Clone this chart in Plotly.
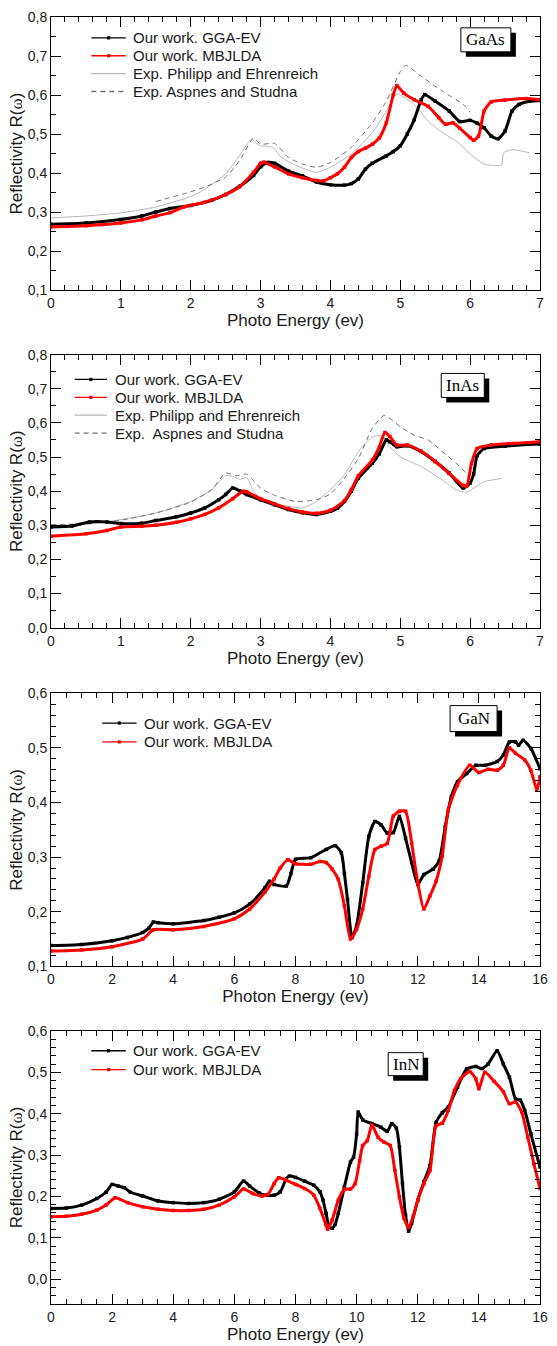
import plotly.graph_objects as go

# ---------------------------------------------------------------- data
# GaAs
gaas_gga_e = [0, 0.5, 1.0, 1.3, 1.5, 1.7, 2.0, 2.3, 2.5, 2.7, 2.9, 3.0, 3.1, 3.2, 3.4, 3.6, 3.8, 4.0,
              4.2, 4.3, 4.4, 4.5, 4.6, 4.8, 4.9, 5.0, 5.1, 5.2, 5.3, 5.35, 5.5, 5.7, 5.85, 6.0, 6.1,
              6.2, 6.3, 6.4, 6.5, 6.6, 6.7, 6.85, 7.0]
gaas_gga_r = [0.269, 0.272, 0.281, 0.29, 0.30, 0.309, 0.317, 0.33, 0.345, 0.366, 0.394, 0.416, 0.427,
              0.425, 0.405, 0.393, 0.377, 0.37, 0.369, 0.373, 0.385, 0.41, 0.425, 0.444, 0.455, 0.47,
              0.50, 0.537, 0.588, 0.601, 0.584, 0.559, 0.532, 0.535, 0.528, 0.516, 0.495, 0.488,
              0.508, 0.559, 0.576, 0.584, 0.586]
gaas_mbj_e = [0, 0.5, 1.0, 1.3, 1.5, 1.7, 1.9, 2.2, 2.5, 2.7, 2.9, 3.0, 3.05, 3.2, 3.4, 3.6, 3.8, 3.9,
              4.0, 4.1, 4.2, 4.3, 4.4, 4.5, 4.6, 4.7, 4.8, 4.9, 4.95, 5.05, 5.2, 5.4, 5.55, 5.65, 5.75,
              5.85, 6.0, 6.05, 6.12, 6.2, 6.3, 6.5, 6.8, 7.0]
gaas_mbj_r = [0.262, 0.265, 0.272, 0.28, 0.29, 0.298, 0.313, 0.325, 0.345, 0.365, 0.402, 0.425, 0.428,
              0.416, 0.398, 0.388, 0.381, 0.38, 0.388, 0.398, 0.415, 0.44, 0.455, 0.464, 0.474, 0.49,
              0.529, 0.601, 0.624, 0.605, 0.588, 0.571, 0.542, 0.525, 0.529, 0.515, 0.491, 0.484,
              0.495, 0.559, 0.582, 0.587, 0.591, 0.588]
gaas_phil_e = [0, 0.5, 1.0, 1.5, 2.0, 2.2, 2.5, 2.7, 2.87, 2.95, 3.0, 3.17, 3.3, 3.5, 3.8, 4.0, 4.3,
               4.6, 4.8, 4.95, 5.0, 5.2, 5.4, 5.6, 5.8, 6.0, 6.2, 6.4, 6.45, 6.48, 6.6, 6.8, 6.85]
gaas_phil_r = [0.285, 0.29, 0.298, 0.313, 0.34, 0.358, 0.398, 0.445, 0.487, 0.475, 0.47, 0.466, 0.44,
               0.42, 0.402, 0.415, 0.449, 0.504, 0.559, 0.603, 0.60, 0.576, 0.533, 0.504, 0.482, 0.449,
               0.423, 0.419, 0.421, 0.452, 0.46, 0.454, 0.452]
gaas_asp_e = [1.5, 2.0, 2.2, 2.5, 2.7, 2.9, 3.0, 3.2, 3.4, 3.6, 3.8, 4.0, 4.3, 4.6, 4.8, 5.0, 5.08,
              5.3, 5.6, 5.9, 6.0]
gaas_asp_r = [0.327, 0.352, 0.364, 0.39, 0.432, 0.49, 0.474, 0.476, 0.44, 0.423, 0.415, 0.427, 0.466,
              0.529, 0.584, 0.66, 0.676, 0.648, 0.61, 0.576, 0.556]

# InAs
inas_gga_e = [0, 0.3, 0.55, 0.8, 1.0, 1.3, 1.5, 1.8, 2.0, 2.2, 2.4, 2.5, 2.6, 2.7, 2.8, 3.0, 3.2, 3.4,
              3.6, 3.8, 4.0, 4.1, 4.2, 4.3, 4.4, 4.6, 4.7, 4.8, 4.85, 4.95, 5.1, 5.3, 5.5, 5.7, 5.9,
              6.0, 6.05, 6.1, 6.2, 6.5, 7.0]
inas_gga_r = [0.295, 0.298, 0.31, 0.31, 0.305, 0.306, 0.314, 0.325, 0.336, 0.351, 0.375, 0.39, 0.409,
              0.401, 0.39, 0.375, 0.36, 0.346, 0.337, 0.332, 0.341, 0.35, 0.37, 0.40, 0.438, 0.482,
              0.51, 0.55, 0.545, 0.53, 0.533, 0.516, 0.487, 0.453, 0.409, 0.424, 0.45, 0.504, 0.525,
              0.532, 0.538]
inas_mbj_e = [0, 0.5, 0.8, 1.0, 1.3, 1.5, 1.8, 2.0, 2.2, 2.4, 2.6, 2.75, 2.8, 3.0, 3.2, 3.4, 3.6, 3.8,
              4.0, 4.2, 4.3, 4.4, 4.6, 4.7, 4.78, 4.85, 4.95, 5.1, 5.3, 5.5, 5.7, 5.9, 5.95, 6.02, 6.1,
              6.3, 6.6, 7.0]
inas_mbj_r = [0.268, 0.275, 0.285, 0.295, 0.297, 0.30, 0.309, 0.319, 0.332, 0.351, 0.378, 0.40, 0.398,
              0.378, 0.363, 0.349, 0.339, 0.335, 0.344, 0.372, 0.405, 0.445, 0.491, 0.53, 0.572, 0.56,
              0.535, 0.535, 0.517, 0.487, 0.452, 0.417, 0.415, 0.482, 0.525, 0.535, 0.54, 0.545]
inas_phil_e = [0, 0.5, 1.0, 1.5, 2.0, 2.3, 2.5, 2.6, 2.7, 2.8, 2.9, 3.0, 3.3, 3.6, 3.8, 4.0, 4.2, 4.4,
               4.6, 4.75, 4.85, 5.0, 5.3, 5.6, 5.8, 5.95, 6.2, 6.45]
inas_phil_r = [0.30, 0.302, 0.317, 0.336, 0.37, 0.404, 0.446, 0.443, 0.435, 0.44, 0.40, 0.38, 0.36,
               0.351, 0.37, 0.404, 0.448, 0.516, 0.559, 0.562, 0.53, 0.501, 0.472, 0.433, 0.404, 0.397,
               0.428, 0.437]
inas_asp_e = [0, 0.5, 1.0, 1.5, 2.0, 2.3, 2.5, 2.65, 2.8, 3.0, 3.2, 3.5, 3.8, 4.0, 4.2, 4.4, 4.6, 4.77,
              5.0, 5.2, 5.4, 5.6, 5.8, 5.95, 6.0]
inas_asp_r = [0.302, 0.305, 0.315, 0.336, 0.368, 0.405, 0.453, 0.445, 0.45, 0.409, 0.388, 0.37, 0.375,
              0.392, 0.438, 0.496, 0.584, 0.622, 0.589, 0.564, 0.55, 0.516, 0.482, 0.453, 0.448]

# GaN
gan_gga_e = [0, 1, 2, 2.5, 3, 3.2, 3.35, 3.5, 4, 5, 5.5, 6, 6.5, 7, 7.15, 7.3, 7.7, 7.85, 8.0, 8.5,
             9.0, 9.3, 9.5, 9.6, 9.7, 9.85, 10.0, 10.2, 10.4, 10.6, 10.8, 11.0, 11.2, 11.4, 11.6, 11.8,
             12.0, 12.2, 12.5, 12.7, 12.9, 13.1, 13.3, 13.6, 13.9, 14.2, 14.6, 14.8, 15.0, 15.2, 15.3,
             15.45, 15.7, 16.0]
gan_gga_r = [0.138, 0.14, 0.147, 0.153, 0.162, 0.17, 0.181, 0.18, 0.178, 0.184, 0.19, 0.198, 0.214,
             0.244, 0.256, 0.25, 0.247, 0.27, 0.296, 0.299, 0.314, 0.321, 0.308, 0.27, 0.223, 0.153,
             0.175, 0.253, 0.338, 0.365, 0.359, 0.344, 0.345, 0.375, 0.335, 0.29, 0.25, 0.268, 0.278,
             0.293, 0.356, 0.411, 0.438, 0.453, 0.468, 0.468, 0.475, 0.487, 0.511, 0.511, 0.505, 0.514,
             0.499, 0.462]
gan_mbj_e = [0, 1, 2, 3, 3.35, 4, 5, 6, 6.5, 7, 7.3, 7.5, 7.75, 8.0, 8.5, 8.8, 9.0, 9.2, 9.4, 9.6,
             9.8, 10.0, 10.2, 10.4, 10.6, 10.8, 11.0, 11.2, 11.4, 11.6, 11.8, 12.0, 12.2, 12.4, 12.6,
             12.8, 13.0, 13.3, 13.7, 14.0, 14.3, 14.6, 14.8, 15.0, 15.2, 15.5, 15.7, 15.9, 16.0]
gan_mbj_r = [0.128, 0.13, 0.136, 0.15, 0.167, 0.167, 0.173, 0.187, 0.205, 0.236, 0.26, 0.28, 0.295,
             0.288, 0.287, 0.292, 0.29, 0.278, 0.259, 0.211, 0.15, 0.168, 0.205, 0.265, 0.314, 0.32,
             0.325, 0.375, 0.384, 0.384, 0.326, 0.253, 0.205, 0.229, 0.256, 0.302, 0.387, 0.432,
             0.468, 0.455, 0.461, 0.459, 0.468, 0.50, 0.49, 0.478, 0.459, 0.423, 0.447]

# InN
inn_gga_e = [0, 0.5, 1, 1.5, 1.8, 2.0, 2.2, 2.4, 2.6, 3.0, 3.5, 4.0, 4.5, 5.0, 5.5, 6.0, 6.3, 6.5,
             6.8, 7.0, 7.3, 7.5, 7.7, 7.8, 8.0, 8.3, 8.6, 8.8, 8.9, 9.0, 9.1, 9.2, 9.3, 9.4, 9.6, 9.8,
             9.9, 10.0, 10.05, 10.2, 10.5, 10.8, 11.0, 11.15, 11.3, 11.4, 11.5, 11.6, 11.7, 11.8, 12.0,
             12.2, 12.4, 12.6, 12.8, 13.0, 13.3, 13.6, 13.9, 14.1, 14.3, 14.6, 14.8, 15.0, 15.2,
             15.35, 15.5, 15.7, 16.0]
inn_gga_r = [0.171, 0.172, 0.179, 0.195, 0.21, 0.229, 0.225, 0.221, 0.21, 0.201, 0.189, 0.185, 0.183,
             0.185, 0.193, 0.211, 0.237, 0.225, 0.209, 0.203, 0.203, 0.211, 0.243, 0.249, 0.246,
             0.237, 0.227, 0.211, 0.191, 0.159, 0.127, 0.123, 0.133, 0.159, 0.223, 0.283, 0.295,
             0.351, 0.404, 0.385, 0.376, 0.367, 0.357, 0.376, 0.365, 0.319, 0.231, 0.155, 0.116,
             0.135, 0.191, 0.235, 0.275, 0.379, 0.402, 0.416, 0.464, 0.508, 0.514, 0.509, 0.52,
             0.552, 0.52, 0.488, 0.436, 0.433, 0.408, 0.351, 0.271]
inn_mbj_e = [0, 0.5, 1, 1.5, 1.8, 2.1, 2.5, 3.0, 3.5, 4.0, 4.5, 5.0, 5.5, 6.0, 6.3, 6.6, 6.9, 7.1,
             7.3, 7.45, 7.7, 8.0, 8.3, 8.6, 8.8, 9.0, 9.05, 9.2, 9.4, 9.6, 9.8, 9.95, 10.1, 10.2,
             10.35, 10.5, 10.7, 10.9, 11.1, 11.25, 11.4, 11.55, 11.7, 11.85, 12.0, 12.2, 12.4, 12.6,
             12.8, 13.0, 13.2, 13.4, 13.7, 13.9, 14.0, 14.2, 14.5, 14.8, 15.0, 15.2, 15.4, 15.6,
             15.8, 16.0]
inn_mbj_r = [0.151, 0.152, 0.157, 0.167, 0.179, 0.197, 0.185, 0.175, 0.169, 0.166, 0.166, 0.169,
             0.179, 0.199, 0.218, 0.207, 0.201, 0.205, 0.231, 0.245, 0.239, 0.229, 0.219, 0.203,
             0.171, 0.131, 0.121, 0.143, 0.191, 0.217, 0.218, 0.231, 0.287, 0.323, 0.335, 0.373,
             0.343, 0.331, 0.323, 0.263, 0.199, 0.147, 0.125, 0.151, 0.191, 0.231, 0.263, 0.371,
             0.377, 0.408, 0.456, 0.484, 0.502, 0.484, 0.46, 0.5, 0.478, 0.453, 0.424, 0.428, 0.404,
             0.343, 0.279, 0.219]

# legend labels and tag names
lbl_gga = "Our work. GGA-EV"
lbl_mbj = "Our work. MBJLDA"
lbl_phil = "Exp. Philipp and Ehrenreich"
lbl_asp_gaas = "Exp. Aspnes and Studna"
lbl_asp_inas = "Exp.  Aspnes and Studna"
materials = ["GaAs", "InAs", "GaN", "InN"]

# labelled axis ticks
x_ticks_short = [0, 1, 2, 3, 4, 5, 6, 7]
x_ticks_long = [0, 2, 4, 6, 8, 10, 12, 14, 16]
y_ticks_gaas = [0.1, 0.2, 0.3, 0.4, 0.5, 0.6, 0.7, 0.8]
y_ticks_inas = [0.0, 0.1, 0.2, 0.3, 0.4, 0.5, 0.6, 0.7, 0.8]
y_ticks_gan = [0.1, 0.2, 0.3, 0.4, 0.5, 0.6]
y_ticks_inn = [0.0, 0.1, 0.2, 0.3, 0.4, 0.5, 0.6]

# ---------------------------------------------------------------- styles
SANS = "Liberation Sans, Arial, Helvetica, sans-serif"
SERIF = "Liberation Serif, Times New Roman, serif"
BLACK = "#000000"
RED = "#ff0000"
LIGHT = "#b8b8b8"
DARK = "#707070"
TEXT = "#1a1a1a"

STYLE = {
    "gga": dict(color=BLACK, width=3.0, dash="solid", marker=True),
    "mbj": dict(color=RED, width=3.0, dash="solid", marker=True),
    "phil": dict(color=LIGHT, width=1.0, dash="solid", marker=False),
    "asp": dict(color=DARK, width=1.0, dash="5px,4px", marker=False),
}

W, H = 557, 1346
M_L, M_R, M_T, M_B = 51, 9, 12, 38
PLOT_W = W - M_L - M_R
PLOT_H = H - M_T - M_B
PANEL_H = 275

panels = [
    dict(top=12, xr=[0, 7], xt=x_ticks_short, xminor=0.2, yr=[0.1, 0.8], yt=y_ticks_gaas, yminor=0.05,
         xtitle="Photo Energy (ev)",
         series=[("phil", gaas_phil_e, gaas_phil_r, lbl_phil), ("asp", gaas_asp_e, gaas_asp_r, lbl_asp_gaas),
                 ("gga", gaas_gga_e, gaas_gga_r, lbl_gga), ("mbj", gaas_mbj_e, gaas_mbj_r, lbl_mbj)],
         legend_order=["gga", "mbj", "phil", "asp"],
         leg_line=(41, 76), leg_text=81, leg_rows=[21, 39, 57, 75],
         box=(442, 23, 50, 24)),
    dict(top=352, xr=[0, 7], xt=x_ticks_short, xminor=0.2, yr=[0.0, 0.8], yt=y_ticks_inas, yminor=0.05,
         xtitle="Photo Energy (ev)",
         series=[("phil", inas_phil_e, inas_phil_r, lbl_phil), ("asp", inas_asp_e, inas_asp_r, lbl_asp_inas),
                 ("gga", inas_gga_e, inas_gga_r, lbl_gga), ("mbj", inas_mbj_e, inas_mbj_r, lbl_mbj)],
         legend_order=["gga", "mbj", "phil", "asp"],
         leg_line=(24, 57), leg_text=63, leg_rows=[25, 43, 61, 79],
         box=(418.5, 31, 43, 24)),
    dict(top=693, xr=[0, 16], xt=x_ticks_long, xminor=0.5, yr=[0.1, 0.6], yt=y_ticks_gan, yminor=0.02,
         xtitle="Photon Energy (ev)",
         series=[("gga", gan_gga_e, gan_gga_r, lbl_gga), ("mbj", gan_mbj_e, gan_mbj_r, lbl_mbj)],
         legend_order=["gga", "mbj"],
         leg_line=(52, 87), leg_text=92, leg_rows=[30, 49],
         box=(429.5, 25.5, 47, 26)),
    dict(top=1033, xr=[0, 16], xt=x_ticks_long, xminor=0.5, yr=[-0.06, 0.6], yt=y_ticks_inn, yminor=0.02,
         xtitle="Photo Energy (ev)",
         series=[("gga", inn_gga_e, inn_gga_r, lbl_gga), ("mbj", inn_mbj_e, inn_mbj_r, lbl_mbj)],
         legend_order=["gga", "mbj"],
         leg_line=(41, 76), leg_text=81, leg_rows=[20, 39],
         box=(360.5, 33.5, 35, 23)),
]

fig = go.Figure()
layout = dict(
    width=W, height=H,
    margin=dict(l=M_L, r=M_R, t=M_T, b=M_B),
    paper_bgcolor="white", plot_bgcolor="white",
    showlegend=False,
    separators=",.",          # decimal comma on the tick labels
    font=dict(family=SANS, color=TEXT),
)
shapes, annotations = [], []

frame = dict(showgrid=False, zeroline=False, showline=True, linecolor=BLACK, linewidth=1,
             ticks="inside", ticklen=10, tickwidth=1, tickcolor=BLACK, mirror="allticks",
             tickfont=dict(family=SANS, size=14, color=TEXT))


def minor_ticks(step):
    return dict(tickmode="linear", tick0=0, dtick=step, ticks="inside", ticklen=5,
                tickwidth=1, tickcolor=BLACK, showgrid=False)


for i, p in enumerate(panels):
    n = "" if i == 0 else str(i + 1)
    xname, yname = "x" + n, "y" + n
    bottom_px = p["top"] + PANEL_H
    ydom = [(M_T + PLOT_H - bottom_px) / PLOT_H, (M_T + PLOT_H - p["top"]) / PLOT_H]

    xt, yt = p["xt"], p["yt"]
    layout["xaxis" + n] = dict(
        frame, domain=[0, 1], anchor=yname, range=p["xr"],
        tickmode="linear", tick0=xt[0], dtick=xt[1] - xt[0], tickformat="d",
        minor=minor_ticks(p["xminor"]),
        title=dict(text=p["xtitle"], font=dict(family=SANS, size=17, color=TEXT), standoff=0),
    )
    layout["yaxis" + n] = dict(
        frame, domain=ydom, anchor=xname, range=p["yr"],
        tickmode="linear", tick0=yt[0], dtick=round(yt[1] - yt[0], 6), tickformat=".1f",
        minor=minor_ticks(p["yminor"]),
        title=dict(text="Reflectivity R(<span style='font-family:Liberation Serif'>ω</span>)",
                   font=dict(family=SANS, size=17, color=TEXT), standoff=0),
    )

    labels = {}
    for key, ex, ry, label in p["series"]:
        st = STYLE[key]
        labels[key] = label
        fig.add_trace(go.Scatter(
            x=ex, y=ry, xaxis=xname, yaxis=yname,
            mode="lines+markers" if st["marker"] else "lines",
            line=dict(color=st["color"], width=st["width"], dash=st["dash"], shape="spline",
                      smoothing=0.6),
            marker=dict(symbol="square", size=3.5, color=st["color"]),
            name=label, hoverinfo="skip",
        ))

    xd, yd = xname + " domain", yname + " domain"
    # legend block
    lx0, lx1 = p["leg_line"]
    for key, row in zip(p["legend_order"], p["leg_rows"]):
        st = STYLE[key]
        yy = 1 - row / PANEL_H
        shapes.append(dict(type="line", xref=xd, yref=yd, x0=lx0 / PLOT_W, x1=lx1 / PLOT_W, y0=yy, y1=yy,
                           line=dict(color=st["color"], width=1.3, dash=st["dash"]), layer="above"))
        if st["marker"]:
            xm = (lx0 + lx1) / 2 / PLOT_W
            shapes.append(dict(type="rect", xref=xd, yref=yd, xsizemode="pixel", ysizemode="pixel",
                               xanchor=xm, yanchor=yy, x0=-1.6, x1=1.6, y0=-1.6, y1=1.6,
                               fillcolor=st["color"], line=dict(width=0), layer="above"))
        annotations.append(dict(xref=xd, yref=yd, x=p["leg_text"] / PLOT_W, y=yy, xanchor="left",
                                yanchor="middle", showarrow=False, text=labels[key],
                                font=dict(family=SANS, size=15, color=TEXT)))

    # material tag with drop shadow
    bx, by, bw, bh = p["box"]
    cx, cy = bx / PLOT_W, 1 - by / PANEL_H
    shapes.append(dict(type="rect", xref=xd, yref=yd, xsizemode="pixel", ysizemode="pixel",
                       xanchor=cx, yanchor=cy, x0=-bw / 2 + 5, x1=bw / 2 + 5, y0=-bh / 2 - 5, y1=bh / 2 - 5,
                       fillcolor=BLACK, line=dict(width=0), layer="above"))
    shapes.append(dict(type="rect", xref=xd, yref=yd, xsizemode="pixel", ysizemode="pixel",
                       xanchor=cx, yanchor=cy, x0=-bw / 2, x1=bw / 2, y0=-bh / 2, y1=bh / 2,
                       fillcolor="white", line=dict(color=BLACK, width=1), layer="above"))
    annotations.append(dict(xref=xd, yref=yd, x=cx, y=cy, xanchor="center", yanchor="middle",
                            showarrow=False, text=materials[i],
                            font=dict(family=SERIF, size=17, color=BLACK)))

layout["shapes"] = shapes
layout["annotations"] = annotations
fig.update_layout(**layout)
fig.write_html("out.html")
